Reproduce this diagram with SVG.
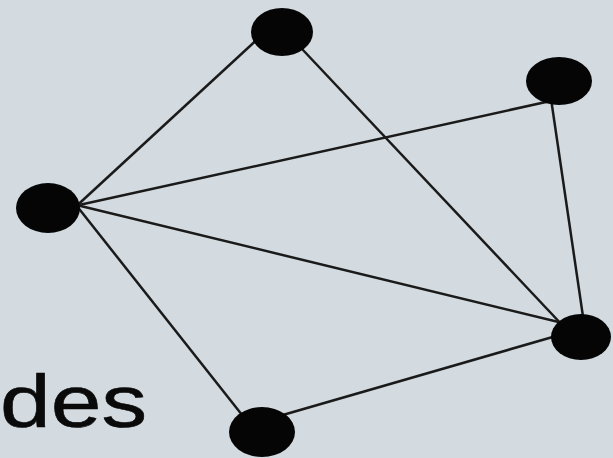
<svg xmlns="http://www.w3.org/2000/svg" width="613" height="458" viewBox="0 0 613 458">
<style>
.edge{stroke:#1a1a1a;stroke-width:2.5;fill:none}
.node{fill:#050505}
.lbl{font-family:"Liberation Sans",Arial,sans-serif;font-size:75px;fill:#0a0a0a;stroke:#0a0a0a;stroke-width:0.6}
</style>
<rect width="613" height="458" fill="#d3dbe0"/>
<g id="connectors">
<line class="edge" x1="262" y1="35" x2="70" y2="212"/>
<line class="edge" x1="286" y1="32" x2="565" y2="328"/>
<line class="edge" x1="555" y1="100" x2="70" y2="207"/>
<line class="edge" x1="549" y1="85" x2="586" y2="337"/>
<line class="edge" x1="60" y1="201" x2="575" y2="326"/>
<line class="edge" x1="65" y1="191" x2="250" y2="425"/>
<line class="edge" x1="262" y1="421" x2="570" y2="332"/>
</g>
<g id="nodeA"><ellipse class="node" cx="282" cy="32" rx="31" ry="24"/></g>
<g id="nodeB"><ellipse class="node" cx="559" cy="81" rx="33" ry="24"/></g>
<g id="nodeC"><ellipse class="node" cx="48" cy="208" rx="32" ry="25"/></g>
<g id="nodeD"><ellipse class="node" cx="581" cy="337" rx="30" ry="23"/></g>
<g id="nodeE"><ellipse class="node" cx="262" cy="432" rx="33" ry="25"/></g>
<text class="lbl" x="0" y="427" textLength="147" lengthAdjust="spacingAndGlyphs">des</text>
</svg>
